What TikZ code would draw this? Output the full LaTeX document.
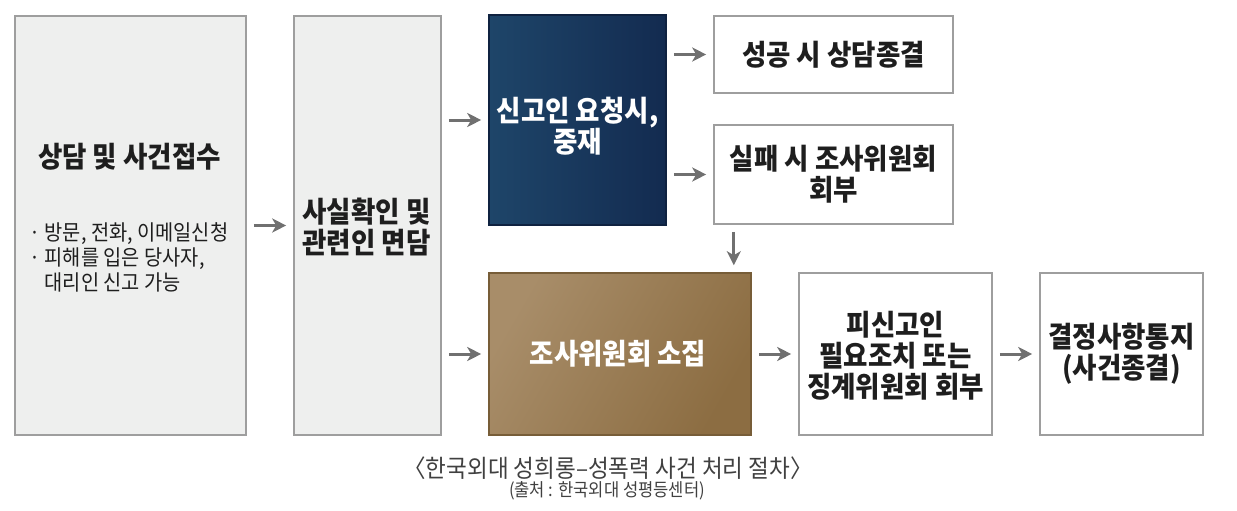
\documentclass[tikz,border=0pt]{standalone}
\usepackage{fontspec}
\setmainfont{Noto Sans CJK KR}[FakeStretch=0.92]
\usetikzlibrary{arrows.meta}
\definecolor{boxline}{HTML}{9E9E9E}
\definecolor{boxgray}{HTML}{EEEFEE}
\definecolor{txt}{HTML}{1E1E1E}
\definecolor{arrowgray}{HTML}{707070}
\definecolor{navyL}{HTML}{1E4569}
\definecolor{navyR}{HTML}{132B50}
\definecolor{brownL}{HTML}{A88D69}
\definecolor{brownR}{HTML}{8C6D42}
\tikzset{
  bigbold/.style={font=\bfseries\fontsize{28.8}{31}\selectfont},
  box/.style={draw=boxline, line width=1.6pt, inner sep=0pt, align=center, text=txt, bigbold},
  graybox/.style={box, fill=boxgray},
  whitebox/.style={box, fill=white},
  navybox/.style={box, draw=navyR!80!black, left color=navyL, right color=navyR, text=white},
  brownbox/.style={box, draw=brownR!85!black, left color=brownL, right color=brownR, shading angle=60, text=white},
  conn/.style={draw=arrowgray, line width=3pt, -{Stealth[length=14pt, width=14pt, inset=4pt]}, shorten <=7pt, shorten >=7pt},
}
\begin{document}
\begin{tikzpicture}[x=1pt, y=-1pt]
\useasboundingbox (0,0) rectangle (1237,511);
\node[graybox, minimum width=231pt, minimum height=419pt] (b1) at (130.5,225.5) {};
\node[bigbold, text=txt] (t1) at (129.5,157) {상담 및 사건접수};
\node[anchor=north west, align=left, inner sep=0pt, text=txt, font=\fontsize{21.5}{25}\selectfont] (t2) at (29,222) {· 방문, 전화, 이메일신청\\· 피해를 입은 당사자,\\\hphantom{· }대리인 신고 가능};
\node[graybox, minimum width=147pt, minimum height=419pt] (b2) at (367.5,225.5) {};
\node[bigbold, text=txt, align=center, inner sep=0pt] (b2t) at (366.5,227) {사실확인 및\\관련인 면담};
\node[navybox, minimum width=177pt, minimum height=210pt] (blue) at (577.5,120) {};
\node[bigbold, text=white, align=center, inner sep=0pt] (bt) at (577.5,126) {신고인 요청시,\\중재};
\node[whitebox, minimum width=239pt, minimum height=77pt] (ok) at (833.5,54.5) {성공 시 상담종결};
\node[whitebox, minimum width=239pt, minimum height=99pt] (fail) at (833.5,174.5) {실패 시 조사위원회\\회부};
\node[brownbox, minimum width=262pt, minimum height=162pt] (brown) at (620,354) {};
\node[bigbold, text=white] (brt) at (618,354) {조사위원회 소집};
\node[whitebox, minimum width=193pt, minimum height=162pt] (acc) at (895.5,354) {};
\node[bigbold, text=txt, align=center, inner sep=0pt] (acct) at (895.5,356) {피신고인\\필요조치 또는\\징계위원회 회부};
\node[whitebox, minimum width=163pt, minimum height=162pt] (note) at (1121.5,354) {결정사항통지\\(사건종결)};
\coordinate (dn) at ([xshift=-18pt]brown.north east);
\draw[conn] (b1.east) -- (b2.west |- b1.east);
\draw[conn] (b2.east |- blue.west) -- (blue.west);
\draw[conn] (b2.east |- brown.west) -- (brown.west);
\draw[conn] (blue.east |- ok.west) -- (ok.west);
\draw[conn] (blue.east |- fail.west) -- (fail.west);
\draw[conn] (fail.south -| dn) -- (dn);
\draw[conn] (brown.east) -- (acc.west);
\draw[conn] (acc.east) -- (note.west);
\node[text=txt!85, font=\fontsize{24.5}{26}\selectfont] (cap) at (608,468) {〈한국외대 성희롱–성폭력 사건 처리 절차〉};
\node[text=txt!85, font=\fontsize{18}{20}\selectfont, inner sep=0pt] (src) at (607,491) {(출처 : 한국외대 성평등센터)};
\end{tikzpicture}
\end{document}
